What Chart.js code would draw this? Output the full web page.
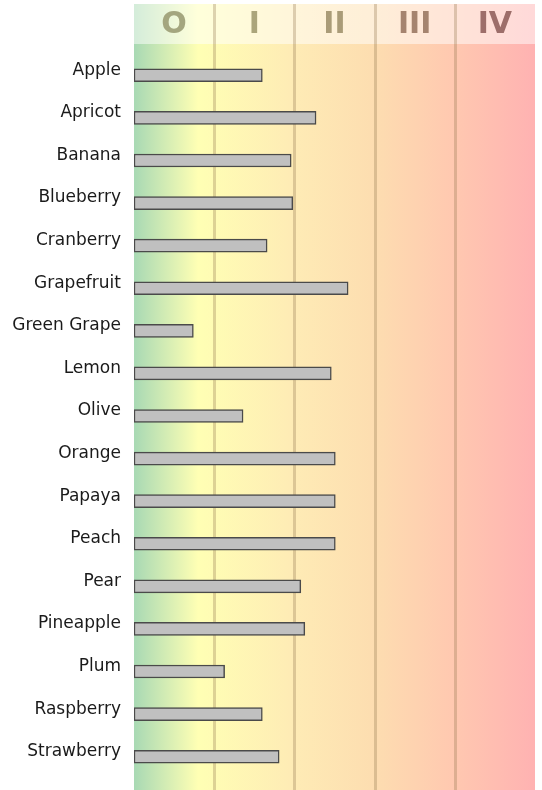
<!DOCTYPE html>
<html>
<head>
<meta charset="utf-8">
<script src="https://cdn.jsdelivr.net/npm/chart.js@4"></script>
<style>
  html, body { margin: 0; padding: 0; background: #fff; }
  #wrap { width: 542px; height: 790px; position: relative; }
</style>
</head>
<body>
<div id="wrap"><canvas id="chart"></canvas></div>
<script>
// --- data ---------------------------------------------------
const fruits = ['Apple', 'Apricot', 'Banana', 'Blueberry', 'Cranberry', 'Grapefruit',
  'Green Grape', 'Lemon', 'Olive', 'Orange', 'Papaya', 'Peach', 'Pear',
  'Pineapple', 'Plum', 'Raspberry', 'Strawberry'];
const scores = [1.60, 2.27, 1.96, 1.98, 1.66, 2.67, 0.74, 2.46, 1.36, 2.51, 2.51, 2.51,
  2.08, 2.13, 1.13, 1.60, 1.81];
const zoneLabels = ['O', 'I', 'II', 'III', 'IV'];
const zoneEdges = [0, 1, 2, 3, 4, 5];

// --- styling ------------------------------------------------
const zoneTextColors = ['#a4a67f', '#aba57b', '#aa9c78', '#a5846f', '#9d6e6a'];
const gradientStops = [
  [0.00, '#a8d9b4'],
  [0.16, '#ffffb4'],
  [0.40, '#feebb5'],
  [0.60, '#fdddb0'],
  [0.80, '#ffc8b0'],
  [1.00, '#ffb2b2'],
];
const HEADER_TOP = 4;
const HEADER_BOTTOM = 44;

Chart.defaults.font.family = "'DejaVu Sans', sans-serif";

function makeGradient(ctx, x0, x1) {
  const g = ctx.createLinearGradient(x0, 0, x1, 0);
  gradientStops.forEach(([o, c]) => g.addColorStop(o, c));
  return g;
}

// background zones, header band and separators
const zonesPlugin = {
  id: 'zones',
  beforeDatasetsDraw(chart) {
    const { ctx, scales: { x }, height } = chart;
    const left = x.getPixelForValue(zoneEdges[0]);
    const right = x.getPixelForValue(zoneEdges[zoneEdges.length - 1]);
    ctx.save();
    ctx.fillStyle = makeGradient(ctx, left, right);
    ctx.fillRect(left, HEADER_TOP, right - left, height - HEADER_TOP);
    // header: lighter strip
    ctx.fillStyle = 'rgba(255,255,255,0.5)';
    ctx.fillRect(left, HEADER_TOP, right - left, HEADER_BOTTOM - HEADER_TOP);

    // separators
    ctx.lineWidth = 3;
    ctx.strokeStyle = 'rgba(150,120,80,0.32)';
    zoneEdges.slice(1, -1).forEach(v => {
      const px = Math.round(x.getPixelForValue(v)) + 0.5;
      ctx.beginPath();
      ctx.moveTo(px, HEADER_TOP);
      ctx.lineTo(px, height);
      ctx.stroke();
    });

    // zone labels
    ctx.font = "bold 30px 'DejaVu Sans', sans-serif";
    ctx.textAlign = 'center';
    ctx.textBaseline = 'middle';
    zoneLabels.forEach((lab, i) => {
      const cx = x.getPixelForValue((zoneEdges[i] + zoneEdges[i + 1]) / 2);
      ctx.fillStyle = zoneTextColors[i];
      ctx.fillText(lab, cx, (HEADER_TOP + HEADER_BOTTOM) / 2 + 1);
    });
    ctx.restore();
  }
};

new Chart(document.getElementById('chart'), {
  type: 'bar',
  data: {
    labels: fruits,
    datasets: [{
      data: scores,
      backgroundColor: '#c0c0c0',
      borderColor: '#4a4a4a',
      borderWidth: 1.5,
      borderSkipped: false,
      barThickness: 13,
    }],
  },
  options: {
    responsive: true,
    maintainAspectRatio: false,
    animation: false,
    indexAxis: 'y',
    layout: { padding: { top: 54, bottom: 12, right: 7, left: 0 } },
    plugins: {
      legend: { display: false },
      tooltip: { enabled: false },
    },
    scales: {
      x: {
        display: false,
        min: 0,
        max: 5,
      },
      y: {
        grid: { display: false, drawTicks: false },
        border: { display: false },
        ticks: {
          color: '#1a1a1a',
          font: { size: 17 },
          padding: 13,
          labelOffset: -5,
        },
        afterFit(scale) {
          scale.width = 134;
          scale.paddingTop = 0;
          scale.paddingBottom = 0;
        },
      },
    },
  },
  plugins: [zonesPlugin],
});
</script>
</body>
</html>
